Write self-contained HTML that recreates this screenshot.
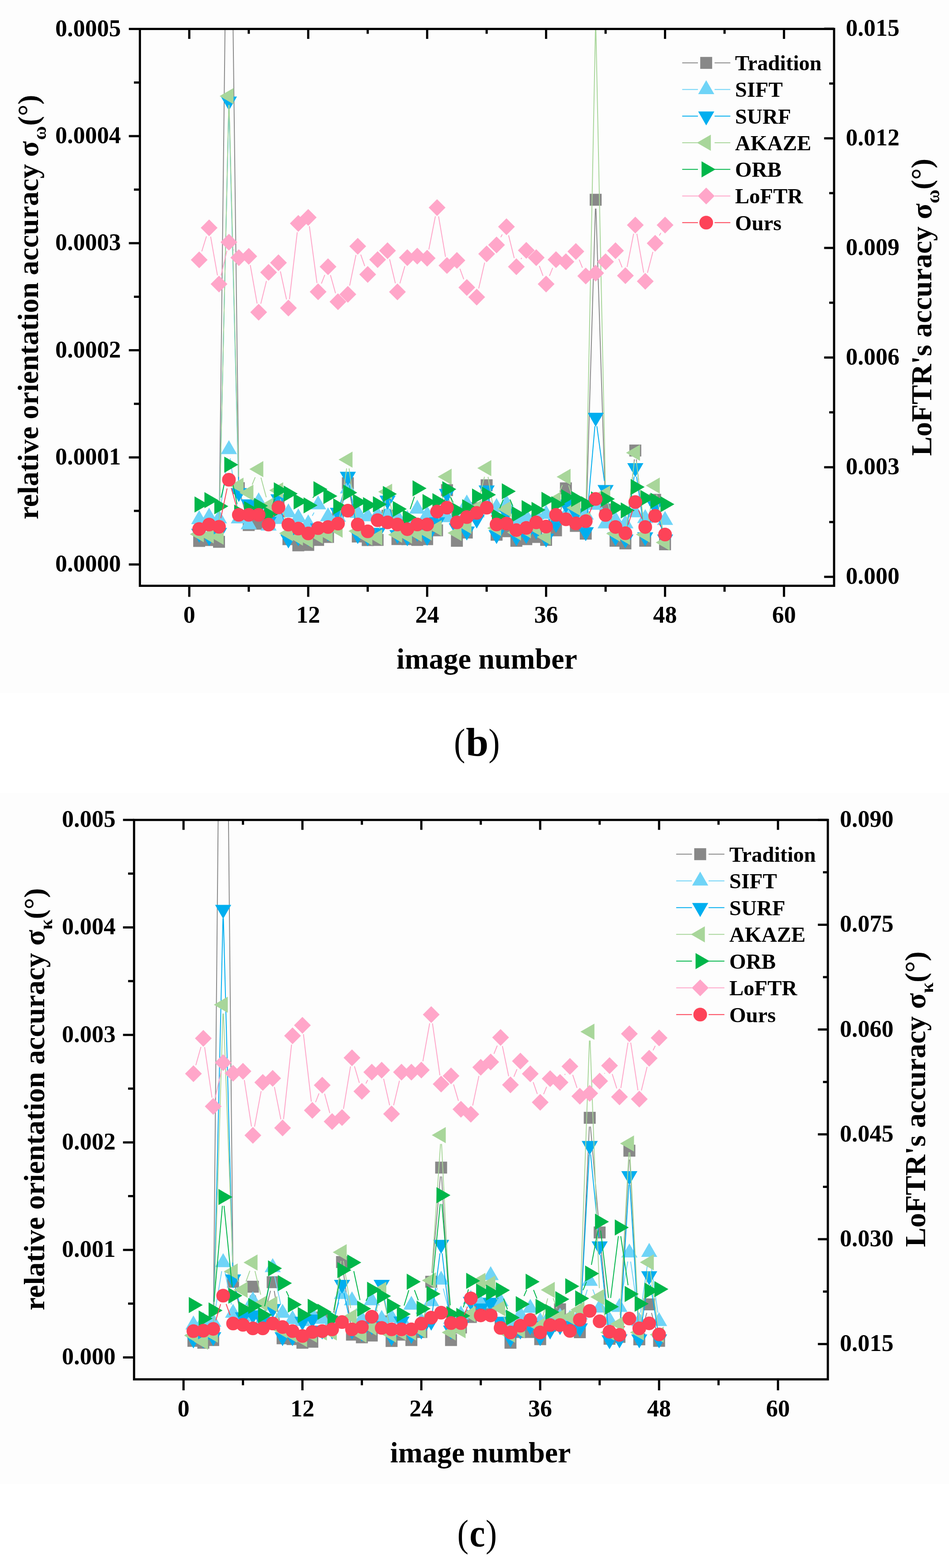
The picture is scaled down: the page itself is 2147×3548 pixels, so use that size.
<!DOCTYPE html>
<html><head><meta charset="utf-8"><title>figure</title>
<style>html,body{margin:0;padding:0;background:#fff}svg{display:block}</style></head>
<body>
<svg width="2147" height="3548" viewBox="0 0 2147 3548" font-family="'Liberation Serif', 'Times New Roman', serif" font-weight="bold">
<rect x="0" y="0" width="2147" height="3548" fill="#fff"/>
<rect x="0" y="0" width="2147" height="1568" fill="#fdfdfd"/>
<rect x="0" y="1794" width="2147" height="1564" fill="#fdfdfd"/>
<clipPath id="c1"><rect x="316.5" y="65.5" width="1570.5" height="1260"/></clipPath>
<g clip-path="url(#c1)">
<path d="M495.7 1206L517.7 -670M518.1 -670L540.1 1084.6M545.5 1123.9L557.6 1168.7M635.4 1159.3L647.1 1200.7M751.1 1197.1L755.7 1187.9M770.2 1150.8L781.4 1112.6M790.7 1113.1L805.8 1194.3M861.9 1203.2L869.1 1185.5M884.5 1185.4L891.3 1201.4M993.6 1180.6L1006.5 1128.4M1015.1 1128.6L1029.8 1204.1M1063.7 1186.5L1071 1168.5M1086.4 1131.6L1093 1116.4M1104.9 1117.6L1119.4 1190.4M1262.5 1180.5L1275.8 1124.5M1285.5 1124.3L1297.7 1170.7M1325.8 1187.5L1347 472M1348.3 472L1369.4 1133M1376.1 1172.1L1386.4 1204.5M1417 1209.7L1435.2 1039.3M1439.5 1039.3L1457.6 1203.7M1464.5 1204.2L1477.5 1150.4M1486.5 1150.5L1500.2 1212.1" stroke="#888888" stroke-width="2.0" fill="none"/>
<rect x="437.1" y="1210.5" width="27" height="27" fill="#888888"/><rect x="459.6" y="1208.5" width="27" height="27" fill="#888888"/><rect x="482" y="1212.5" width="27" height="27" fill="#888888"/><rect x="504.4" y="-703.5" width="27" height="27" fill="#888888"/><rect x="526.8" y="1091.1" width="27" height="27" fill="#888888"/><rect x="549.2" y="1174.5" width="27" height="27" fill="#888888"/><rect x="571.7" y="1171.5" width="27" height="27" fill="#888888"/><rect x="594.1" y="1156.5" width="27" height="27" fill="#888888"/><rect x="616.5" y="1126.5" width="27" height="27" fill="#888888"/><rect x="639" y="1206.5" width="27" height="27" fill="#888888"/><rect x="661.4" y="1220.5" width="27" height="27" fill="#888888"/><rect x="683.8" y="1219.5" width="27" height="27" fill="#888888"/><rect x="706.2" y="1208.2" width="27" height="27" fill="#888888"/><rect x="728.6" y="1201.5" width="27" height="27" fill="#888888"/><rect x="751.1" y="1156.5" width="27" height="27" fill="#888888"/><rect x="773.5" y="1079.9" width="27" height="27" fill="#888888"/><rect x="795.9" y="1200.5" width="27" height="27" fill="#888888"/><rect x="818.4" y="1208.5" width="27" height="27" fill="#888888"/><rect x="840.8" y="1208.2" width="27" height="27" fill="#888888"/><rect x="863.2" y="1153.5" width="27" height="27" fill="#888888"/><rect x="885.6" y="1206.3" width="27" height="27" fill="#888888"/><rect x="908" y="1206.5" width="27" height="27" fill="#888888"/><rect x="930.5" y="1208.2" width="27" height="27" fill="#888888"/><rect x="952.9" y="1206.5" width="27" height="27" fill="#888888"/><rect x="975.3" y="1186.5" width="27" height="27" fill="#888888"/><rect x="997.8" y="1095.5" width="27" height="27" fill="#888888"/><rect x="1020.2" y="1210.2" width="27" height="27" fill="#888888"/><rect x="1042.6" y="1191.5" width="27" height="27" fill="#888888"/><rect x="1065" y="1136.5" width="27" height="27" fill="#888888"/><rect x="1087.5" y="1084.5" width="27" height="27" fill="#888888"/><rect x="1109.9" y="1196.5" width="27" height="27" fill="#888888"/><rect x="1132.3" y="1188.5" width="27" height="27" fill="#888888"/><rect x="1154.7" y="1210.2" width="27" height="27" fill="#888888"/><rect x="1177.2" y="1206.5" width="27" height="27" fill="#888888"/><rect x="1199.6" y="1201.5" width="27" height="27" fill="#888888"/><rect x="1222" y="1208.1" width="27" height="27" fill="#888888"/><rect x="1244.4" y="1186.5" width="27" height="27" fill="#888888"/><rect x="1266.8" y="1091.5" width="27" height="27" fill="#888888"/><rect x="1289.3" y="1176.5" width="27" height="27" fill="#888888"/><rect x="1311.7" y="1194" width="27" height="27" fill="#888888"/><rect x="1334.1" y="438.5" width="27" height="27" fill="#888888"/><rect x="1356.5" y="1139.5" width="27" height="27" fill="#888888"/><rect x="1379" y="1210.1" width="27" height="27" fill="#888888"/><rect x="1401.4" y="1216.1" width="27" height="27" fill="#888888"/><rect x="1423.8" y="1005.9" width="27" height="27" fill="#888888"/><rect x="1446.2" y="1210.1" width="27" height="27" fill="#888888"/><rect x="1468.7" y="1117.5" width="27" height="27" fill="#888888"/><rect x="1491.1" y="1218.1" width="27" height="27" fill="#888888"/>
<path d="M498.3 1153.9L515.1 1036.8M520.7 1036.8L537.5 1153.9M570.7 1168.6L577.3 1153.4M592.7 1153.5L600 1171.5M706.5 1167.3L710.5 1159.7M771.2 1151.1L780.4 1124.9M794.5 1124.5L801.9 1142.9M1044.5 1158.2L1045.3 1156.8M1156.6 1156.8L1157.4 1158.2M1357 1160.6L1360.6 1167.4" stroke="#6fd4f7" stroke-width="2.0" fill="none"/>
<polygon points="450.6,1154.5 468.9,1186.1 432.4,1186.1" fill="#6fd4f7"/><polygon points="473.1,1148.7 491.3,1180.3 454.8,1180.3" fill="#6fd4f7"/><polygon points="495.5,1152.6 513.7,1184.2 477.2,1184.2" fill="#6fd4f7"/><polygon points="517.9,995.9 536.1,1027.5 499.6,1027.5" fill="#6fd4f7"/><polygon points="540.3,1152.6 558.6,1184.2 522.1,1184.2" fill="#6fd4f7"/><polygon points="562.8,1165.9 581,1197.5 544.5,1197.5" fill="#6fd4f7"/><polygon points="585.2,1113.9 603.4,1145.5 566.9,1145.5" fill="#6fd4f7"/><polygon points="607.6,1168.9 625.9,1200.5 589.4,1200.5" fill="#6fd4f7"/><polygon points="630,1153.9 648.3,1185.5 611.8,1185.5" fill="#6fd4f7"/><polygon points="652.5,1138.9 670.7,1170.5 634.2,1170.5" fill="#6fd4f7"/><polygon points="674.9,1150.6 693.1,1182.2 656.6,1182.2" fill="#6fd4f7"/><polygon points="697.3,1163.9 715.5,1195.5 679,1195.5" fill="#6fd4f7"/><polygon points="719.7,1120.9 738,1152.5 701.5,1152.5" fill="#6fd4f7"/><polygon points="742.1,1147.9 760.4,1179.5 723.9,1179.5" fill="#6fd4f7"/><polygon points="764.6,1148.9 782.8,1180.5 746.3,1180.5" fill="#6fd4f7"/><polygon points="787,1084.9 805.2,1116.5 768.8,1116.5" fill="#6fd4f7"/><polygon points="809.4,1140.3 827.7,1171.9 791.2,1171.9" fill="#6fd4f7"/><polygon points="831.9,1147.9 850.1,1179.5 813.6,1179.5" fill="#6fd4f7"/><polygon points="854.3,1143.9 872.5,1175.5 836,1175.5" fill="#6fd4f7"/><polygon points="876.7,1143.9 895,1175.5 858.5,1175.5" fill="#6fd4f7"/><polygon points="899.1,1148.9 917.4,1180.5 880.9,1180.5" fill="#6fd4f7"/><polygon points="921.5,1153.9 939.8,1185.5 903.3,1185.5" fill="#6fd4f7"/><polygon points="944,1130.6 962.2,1162.2 925.7,1162.2" fill="#6fd4f7"/><polygon points="966.4,1143.9 984.7,1175.5 948.2,1175.5" fill="#6fd4f7"/><polygon points="988.8,1138.9 1007.1,1170.5 970.6,1170.5" fill="#6fd4f7"/><polygon points="1011.2,1149.9 1029.5,1181.5 993,1181.5" fill="#6fd4f7"/><polygon points="1033.7,1153.9 1051.9,1185.5 1015.4,1185.5" fill="#6fd4f7"/><polygon points="1056.1,1118.9 1074.3,1150.5 1037.8,1150.5" fill="#6fd4f7"/><polygon points="1078.5,1138.9 1096.8,1170.5 1060.3,1170.5" fill="#6fd4f7"/><polygon points="1101,1118.9 1119.2,1150.5 1082.7,1150.5" fill="#6fd4f7"/><polygon points="1123.4,1126.9 1141.6,1158.5 1105.1,1158.5" fill="#6fd4f7"/><polygon points="1145.8,1118.9 1164,1150.5 1127.5,1150.5" fill="#6fd4f7"/><polygon points="1168.2,1153.9 1186.5,1185.5 1150,1185.5" fill="#6fd4f7"/><polygon points="1190.7,1148.9 1208.9,1180.5 1172.4,1180.5" fill="#6fd4f7"/><polygon points="1213.1,1143.9 1231.3,1175.5 1194.8,1175.5" fill="#6fd4f7"/><polygon points="1235.5,1142.3 1253.8,1173.9 1217.2,1173.9" fill="#6fd4f7"/><polygon points="1257.9,1153.9 1276.2,1185.5 1239.7,1185.5" fill="#6fd4f7"/><polygon points="1280.3,1143.9 1298.6,1175.5 1262.1,1175.5" fill="#6fd4f7"/><polygon points="1302.8,1148.9 1321,1180.5 1284.5,1180.5" fill="#6fd4f7"/><polygon points="1325.2,1143.9 1343.5,1175.5 1307,1175.5" fill="#6fd4f7"/><polygon points="1347.6,1121.9 1365.9,1153.5 1329.4,1153.5" fill="#6fd4f7"/><polygon points="1370,1163.9 1388.3,1195.5 1351.8,1195.5" fill="#6fd4f7"/><polygon points="1392.5,1155.9 1410.7,1187.5 1374.2,1187.5" fill="#6fd4f7"/><polygon points="1414.9,1163.9 1433.2,1195.5 1396.7,1195.5" fill="#6fd4f7"/><polygon points="1437.3,1138.9 1455.6,1170.5 1419.1,1170.5" fill="#6fd4f7"/><polygon points="1459.8,1151.9 1478,1183.5 1441.5,1183.5" fill="#6fd4f7"/><polygon points="1482.2,1138.9 1500.4,1170.5 1463.9,1170.5" fill="#6fd4f7"/><polygon points="1504.6,1156.2 1522.9,1187.8 1486.4,1187.8" fill="#6fd4f7"/>
<path d="M495.9 1185L517.4 249M518.4 249L539.8 1095M615.7 1161.7L622 1147.3M634.8 1148.4L647.7 1200.6M751.2 1186.1L755.6 1177.4M769.9 1140.2L781.7 1097.3M790.3 1097.7L806.1 1190.3M860.1 1185.9L870.8 1151.1M882.2 1151.2L893.6 1190.8M995.4 1162.1L1004.7 1135.6M1016.8 1135.9L1028.2 1175.8M1085 1156.1L1094.5 1127.9M1105.3 1128.5L1119 1190.5M1131.7 1191.8L1137.5 1179.2M1153.5 1179.5L1160.6 1196.5M1267 1167.2L1271.3 1158.8M1312.1 1178.7L1315.9 1185.8M1326.9 1183.6L1345.9 964.4M1350.3 964.3L1367.3 1088.2M1374.2 1127.6L1388.4 1195.4M1417.7 1200.2L1434.6 1078.4M1440.2 1078.4L1456.9 1195.2M1465.9 1196L1476.1 1164M1487.9 1164.2L1498.9 1200.8" stroke="#00aeef" stroke-width="2.0" fill="none"/>
<polygon points="450.6,1228.1 468.9,1196.5 432.4,1196.5" fill="#00aeef"/><polygon points="473.1,1235.6 491.3,1204 454.8,1204" fill="#00aeef"/><polygon points="495.5,1226.1 513.7,1194.5 477.2,1194.5" fill="#00aeef"/><polygon points="517.9,250.1 536.1,218.5 499.6,218.5" fill="#00aeef"/><polygon points="540.3,1136.1 558.6,1104.5 522.1,1104.5" fill="#00aeef"/><polygon points="562.8,1161.7 581,1130.1 544.5,1130.1" fill="#00aeef"/><polygon points="585.2,1171.1 603.4,1139.5 566.9,1139.5" fill="#00aeef"/><polygon points="607.6,1201.1 625.9,1169.5 589.4,1169.5" fill="#00aeef"/><polygon points="630,1150.1 648.3,1118.5 611.8,1118.5" fill="#00aeef"/><polygon points="652.5,1241.1 670.7,1209.5 634.2,1209.5" fill="#00aeef"/><polygon points="674.9,1236.1 693.1,1204.5 656.6,1204.5" fill="#00aeef"/><polygon points="697.3,1236.1 715.5,1204.5 679,1204.5" fill="#00aeef"/><polygon points="719.7,1216.1 738,1184.5 701.5,1184.5" fill="#00aeef"/><polygon points="742.1,1225.1 760.4,1193.5 723.9,1193.5" fill="#00aeef"/><polygon points="764.6,1180.6 782.8,1149 746.3,1149" fill="#00aeef"/><polygon points="787,1099.1 805.2,1067.5 768.8,1067.5" fill="#00aeef"/><polygon points="809.4,1231.1 827.7,1199.5 791.2,1199.5" fill="#00aeef"/><polygon points="831.9,1236.1 850.1,1204.5 813.6,1204.5" fill="#00aeef"/><polygon points="854.3,1226.1 872.5,1194.5 836,1194.5" fill="#00aeef"/><polygon points="876.7,1153.1 895,1121.5 858.5,1121.5" fill="#00aeef"/><polygon points="899.1,1231.1 917.4,1199.5 880.9,1199.5" fill="#00aeef"/><polygon points="921.5,1236.1 939.8,1204.5 903.3,1204.5" fill="#00aeef"/><polygon points="944,1226.1 962.2,1194.5 925.7,1194.5" fill="#00aeef"/><polygon points="966.4,1235.1 984.7,1203.5 948.2,1203.5" fill="#00aeef"/><polygon points="988.8,1202.1 1007.1,1170.5 970.6,1170.5" fill="#00aeef"/><polygon points="1011.2,1137.8 1029.5,1106.2 993,1106.2" fill="#00aeef"/><polygon points="1033.7,1216.1 1051.9,1184.5 1015.4,1184.5" fill="#00aeef"/><polygon points="1056.1,1223.1 1074.3,1191.5 1037.8,1191.5" fill="#00aeef"/><polygon points="1078.5,1196.1 1096.8,1164.5 1060.3,1164.5" fill="#00aeef"/><polygon points="1101,1130.1 1119.2,1098.5 1082.7,1098.5" fill="#00aeef"/><polygon points="1123.4,1231.1 1141.6,1199.5 1105.1,1199.5" fill="#00aeef"/><polygon points="1145.8,1182.1 1164,1150.5 1127.5,1150.5" fill="#00aeef"/><polygon points="1168.2,1236.1 1186.5,1204.5 1150,1204.5" fill="#00aeef"/><polygon points="1190.7,1231.1 1208.9,1199.5 1172.4,1199.5" fill="#00aeef"/><polygon points="1213.1,1221.1 1231.3,1189.5 1194.8,1189.5" fill="#00aeef"/><polygon points="1235.5,1239.1 1253.8,1207.5 1217.2,1207.5" fill="#00aeef"/><polygon points="1257.9,1206.1 1276.2,1174.5 1239.7,1174.5" fill="#00aeef"/><polygon points="1280.3,1162.1 1298.6,1130.5 1262.1,1130.5" fill="#00aeef"/><polygon points="1302.8,1182.1 1321,1150.5 1284.5,1150.5" fill="#00aeef"/><polygon points="1325.2,1224.6 1343.5,1193 1307,1193" fill="#00aeef"/><polygon points="1347.6,965.6 1365.9,934 1329.4,934" fill="#00aeef"/><polygon points="1370,1129.1 1388.3,1097.5 1351.8,1097.5" fill="#00aeef"/><polygon points="1392.5,1236.1 1410.7,1204.5 1374.2,1204.5" fill="#00aeef"/><polygon points="1414.9,1241.1 1433.2,1209.5 1396.7,1209.5" fill="#00aeef"/><polygon points="1437.3,1079.7 1455.6,1048.1 1419.1,1048.1" fill="#00aeef"/><polygon points="1459.8,1236.1 1478,1204.5 1441.5,1204.5" fill="#00aeef"/><polygon points="1482.2,1166.1 1500.4,1134.5 1463.9,1134.5" fill="#00aeef"/><polygon points="1504.6,1241.1 1522.9,1209.5 1486.4,1209.5" fill="#00aeef"/>
<path d="M495.9 1194.5L517.5 237.5M518.4 237.5L539.8 1079M570.5 1096.6L577.4 1079.9M590.4 1080.8L602.4 1125.2M618.4 1127.7L619.2 1126.3M634.5 1129L648 1187.2M767.4 1178.6L784.2 1059.8M789.7 1059.8L806.7 1182.2M858.5 1196.5L872.5 1132.3M881.2 1132.3L894.6 1190.5M992.6 1175.4L1007.5 1098.4M1014.7 1098.5L1030.2 1186.3M1065.9 1172.6L1068.7 1167.4M1083.3 1130.6L1096.1 1078.7M1104.2 1079L1120.1 1175.3M1132.6 1177.2L1136.6 1169.5M1153.6 1170.1L1160.5 1186.6M1240.7 1195.7L1252.8 1150.3M1265.8 1112.6L1272.4 1097.4M1286.5 1098L1296.7 1130M1325.6 1155L1347.2 60M1348 60L1369.6 1097M1374.9 1136.4L1387.7 1188.1M1417.2 1195.1L1435 1044.3M1439.7 1044.3L1457.3 1189.6M1463.7 1189.9L1478.2 1118.4M1485.6 1118.5L1501.2 1207.9" stroke="#a8d69a" stroke-width="2.0" fill="none"/>
<polygon points="429.6,1208.7 461.2,1190.5 461.2,1227" fill="#a8d69a"/><polygon points="452,1211.6 483.6,1193.3 483.6,1229.8" fill="#a8d69a"/><polygon points="474.4,1214.5 506,1196.2 506,1232.8" fill="#a8d69a"/><polygon points="496.8,217.5 528.4,199.2 528.4,235.8" fill="#a8d69a"/><polygon points="519.3,1099 550.9,1080.8 550.9,1117.2" fill="#a8d69a"/><polygon points="541.7,1115 573.3,1096.8 573.3,1133.2" fill="#a8d69a"/><polygon points="564.1,1061.5 595.7,1043.2 595.7,1079.8" fill="#a8d69a"/><polygon points="586.5,1144.5 618.1,1126.2 618.1,1162.8" fill="#a8d69a"/><polygon points="609,1109.5 640.6,1091.2 640.6,1127.8" fill="#a8d69a"/><polygon points="631.4,1206.7 663,1188.5 663,1225" fill="#a8d69a"/><polygon points="653.8,1216.5 685.4,1198.2 685.4,1234.8" fill="#a8d69a"/><polygon points="676.2,1222 707.8,1203.8 707.8,1240.2" fill="#a8d69a"/><polygon points="698.7,1212 730.3,1193.8 730.3,1230.2" fill="#a8d69a"/><polygon points="721.1,1210 752.7,1191.8 752.7,1228.2" fill="#a8d69a"/><polygon points="743.5,1198.4 775.1,1180.2 775.1,1216.7" fill="#a8d69a"/><polygon points="765.9,1040 797.5,1021.8 797.5,1058.2" fill="#a8d69a"/><polygon points="788.4,1202 820,1183.8 820,1220.2" fill="#a8d69a"/><polygon points="810.8,1216 842.4,1197.8 842.4,1234.2" fill="#a8d69a"/><polygon points="833.2,1216 864.8,1197.8 864.8,1234.2" fill="#a8d69a"/><polygon points="855.6,1112.8 887.2,1094.5 887.2,1131" fill="#a8d69a"/><polygon points="878.1,1210 909.7,1191.8 909.7,1228.2" fill="#a8d69a"/><polygon points="900.5,1212 932.1,1193.8 932.1,1230.2" fill="#a8d69a"/><polygon points="922.9,1208 954.5,1189.8 954.5,1226.2" fill="#a8d69a"/><polygon points="945.3,1205 976.9,1186.8 976.9,1223.2" fill="#a8d69a"/><polygon points="967.8,1195 999.4,1176.8 999.4,1213.2" fill="#a8d69a"/><polygon points="990.2,1078.8 1021.8,1060.5 1021.8,1097" fill="#a8d69a"/><polygon points="1012.6,1206 1044.2,1187.8 1044.2,1224.2" fill="#a8d69a"/><polygon points="1035,1190 1066.6,1171.8 1066.6,1208.2" fill="#a8d69a"/><polygon points="1057.5,1150 1089.1,1131.8 1089.1,1168.2" fill="#a8d69a"/><polygon points="1079.9,1059.3 1111.5,1041 1111.5,1077.5" fill="#a8d69a"/><polygon points="1102.3,1195 1133.9,1176.8 1133.9,1213.2" fill="#a8d69a"/><polygon points="1124.7,1151.7 1156.3,1133.5 1156.3,1170" fill="#a8d69a"/><polygon points="1147.2,1205 1178.8,1186.8 1178.8,1223.2" fill="#a8d69a"/><polygon points="1169.6,1200 1201.2,1181.8 1201.2,1218.2" fill="#a8d69a"/><polygon points="1192,1195 1223.6,1176.8 1223.6,1213.2" fill="#a8d69a"/><polygon points="1214.4,1215 1246,1196.8 1246,1233.2" fill="#a8d69a"/><polygon points="1236.9,1131 1268.5,1112.8 1268.5,1149.2" fill="#a8d69a"/><polygon points="1259.3,1079 1290.9,1060.8 1290.9,1097.2" fill="#a8d69a"/><polygon points="1281.7,1149 1313.3,1130.8 1313.3,1167.2" fill="#a8d69a"/><polygon points="1304.1,1175 1335.7,1156.8 1335.7,1193.2" fill="#a8d69a"/><polygon points="1326.6,40 1358.2,21.8 1358.2,58.2" fill="#a8d69a"/><polygon points="1349,1117 1380.6,1098.8 1380.6,1135.2" fill="#a8d69a"/><polygon points="1371.4,1207.5 1403,1189.2 1403,1225.8" fill="#a8d69a"/><polygon points="1393.8,1215 1425.4,1196.8 1425.4,1233.2" fill="#a8d69a"/><polygon points="1416.3,1024.4 1447.9,1006.2 1447.9,1042.7" fill="#a8d69a"/><polygon points="1438.7,1209.5 1470.3,1191.2 1470.3,1227.8" fill="#a8d69a"/><polygon points="1461.1,1098.8 1492.7,1080.5 1492.7,1117" fill="#a8d69a"/><polygon points="1483.5,1227.6 1515.1,1209.3 1515.1,1245.8" fill="#a8d69a"/>
<path d="M500.1 1126L513.3 1071M521.9 1071.1L536.3 1140.4M615.2 1145.5L622.4 1128M707.8 1126.5L709.3 1124M887.7 1134.4L888.1 1135M928 1152.1L937.5 1123.9M1019.6 1125.2L1025.3 1137.4M1109.2 1137.8L1115.1 1150.8M1130.7 1150.4L1138.5 1130.4M1153.8 1130.1L1160.3 1145.1M1422.7 1136.6L1429.5 1120.3" stroke="#00b64a" stroke-width="2.0" fill="none"/>
<polygon points="471.7,1141.6 440.1,1123.3 440.1,1159.8" fill="#00b64a"/><polygon points="494.1,1131.8 462.5,1113.5 462.5,1150" fill="#00b64a"/><polygon points="516.5,1145.5 484.9,1127.2 484.9,1163.8" fill="#00b64a"/><polygon points="539,1051.5 507.4,1033.2 507.4,1069.8" fill="#00b64a"/><polygon points="561.4,1160 529.8,1141.8 529.8,1178.2" fill="#00b64a"/><polygon points="583.8,1152 552.2,1133.8 552.2,1170.2" fill="#00b64a"/><polygon points="606.2,1144.5 574.6,1126.2 574.6,1162.8" fill="#00b64a"/><polygon points="628.7,1164 597.1,1145.8 597.1,1182.2" fill="#00b64a"/><polygon points="651.1,1109.5 619.5,1091.2 619.5,1127.8" fill="#00b64a"/><polygon points="673.5,1117 641.9,1098.8 641.9,1135.2" fill="#00b64a"/><polygon points="695.9,1134.8 664.3,1116.5 664.3,1153" fill="#00b64a"/><polygon points="718.4,1143.5 686.8,1125.2 686.8,1161.8" fill="#00b64a"/><polygon points="740.8,1107 709.2,1088.8 709.2,1125.2" fill="#00b64a"/><polygon points="763.2,1122.5 731.6,1104.2 731.6,1140.8" fill="#00b64a"/><polygon points="785.6,1146 754,1127.8 754,1164.2" fill="#00b64a"/><polygon points="808.1,1114.8 776.5,1096.5 776.5,1133" fill="#00b64a"/><polygon points="830.5,1136 798.9,1117.8 798.9,1154.2" fill="#00b64a"/><polygon points="852.9,1143 821.3,1124.8 821.3,1161.2" fill="#00b64a"/><polygon points="875.3,1141 843.7,1122.8 843.7,1159.2" fill="#00b64a"/><polygon points="897.8,1117.7 866.2,1099.5 866.2,1136" fill="#00b64a"/><polygon points="920.2,1151.7 888.6,1133.5 888.6,1170" fill="#00b64a"/><polygon points="942.6,1171 911,1152.8 911,1189.2" fill="#00b64a"/><polygon points="965,1105 933.4,1086.8 933.4,1123.2" fill="#00b64a"/><polygon points="987.5,1136 955.9,1117.8 955.9,1154.2" fill="#00b64a"/><polygon points="1009.9,1134 978.3,1115.8 978.3,1152.2" fill="#00b64a"/><polygon points="1032.3,1107 1000.7,1088.8 1000.7,1125.2" fill="#00b64a"/><polygon points="1054.7,1155.6 1023.1,1137.3 1023.1,1173.8" fill="#00b64a"/><polygon points="1077.2,1147.8 1045.6,1129.5 1045.6,1166" fill="#00b64a"/><polygon points="1099.6,1123.5 1068,1105.2 1068,1141.8" fill="#00b64a"/><polygon points="1122,1119.6 1090.4,1101.3 1090.4,1137.8" fill="#00b64a"/><polygon points="1144.4,1169 1112.8,1150.8 1112.8,1187.2" fill="#00b64a"/><polygon points="1166.9,1111.8 1135.3,1093.5 1135.3,1130" fill="#00b64a"/><polygon points="1189.3,1163.4 1157.7,1145.2 1157.7,1181.7" fill="#00b64a"/><polygon points="1211.7,1149.8 1180.1,1131.5 1180.1,1168" fill="#00b64a"/><polygon points="1234.1,1153.7 1202.5,1135.5 1202.5,1172" fill="#00b64a"/><polygon points="1256.6,1131 1225,1112.8 1225,1149.2" fill="#00b64a"/><polygon points="1279,1141 1247.4,1122.8 1247.4,1159.2" fill="#00b64a"/><polygon points="1301.4,1125 1269.8,1106.8 1269.8,1143.2" fill="#00b64a"/><polygon points="1323.8,1129 1292.2,1110.8 1292.2,1147.2" fill="#00b64a"/><polygon points="1346.3,1141 1314.7,1122.8 1314.7,1159.2" fill="#00b64a"/><polygon points="1368.7,1130 1337.1,1111.8 1337.1,1148.2" fill="#00b64a"/><polygon points="1391.1,1129 1359.5,1110.8 1359.5,1147.2" fill="#00b64a"/><polygon points="1413.5,1149 1381.9,1130.8 1381.9,1167.2" fill="#00b64a"/><polygon points="1436,1155 1404.4,1136.8 1404.4,1173.2" fill="#00b64a"/><polygon points="1458.4,1101.9 1426.8,1083.7 1426.8,1120.2" fill="#00b64a"/><polygon points="1480.8,1127 1449.2,1108.8 1449.2,1145.2" fill="#00b64a"/><polygon points="1503.2,1133 1471.6,1114.8 1471.6,1151.2" fill="#00b64a"/><polygon points="1525.7,1141 1494.1,1122.8 1494.1,1159.2" fill="#00b64a"/>
<path d="M456.5 568.8L467.1 534.7M476.5 535.3L492 623.1M500.1 623.3L513.3 567.5M528.7 564.8L529.5 566.2M566.2 599.8L581.7 686.9M590 687.2L602.8 635.7M634.3 614L648.2 677.5M654.8 677.1L672.5 525.5M699.9 511.8L717.1 640.4M727.1 641.6L734.8 622M747.6 622.6L759.1 663.5M791 646.4L805.4 576.9M816.1 576.2L825.2 602.1M843 604.4L843.1 604.1M881.4 586.6L894.5 641.1M904.7 641.3L916 602.2M970.2 564.6L985 489.4M992.2 489.5L1007.9 581.1M1040.5 608.1L1049.2 631.8M1083 652.8L1096.5 594.1M1132.9 536.7L1136.3 530.6M1150.6 532.4L1163.4 584M1178.6 586.3L1180.3 583.6M1220.1 601.7L1228.5 624.1M1243 624.3L1250.4 606M1310.3 587.5L1317.7 605.9M1399.9 585.8L1407.5 605.1M1418.7 604.1L1433.5 528.9M1440.8 529L1456.3 616.9M1464.8 617.2L1477.1 570M1491.7 533L1495.1 526.9" stroke="#ffa6c9" stroke-width="2.0" fill="none"/>
<polygon points="450.6,568.9 469.6,587.9 450.6,606.9 431.6,587.9" fill="#ffa6c9"/><polygon points="473.1,496.6 492.1,515.6 473.1,534.6 454.1,515.6" fill="#ffa6c9"/><polygon points="495.5,623.8 514.5,642.8 495.5,661.8 476.5,642.8" fill="#ffa6c9"/><polygon points="517.9,529 536.9,548 517.9,567 498.9,548" fill="#ffa6c9"/><polygon points="540.3,564 559.3,583 540.3,602 521.3,583" fill="#ffa6c9"/><polygon points="562.8,561.1 581.8,580.1 562.8,599.1 543.8,580.1" fill="#ffa6c9"/><polygon points="585.2,687.6 604.2,706.6 585.2,725.6 566.2,706.6" fill="#ffa6c9"/><polygon points="607.6,597.3 626.6,616.3 607.6,635.3 588.6,616.3" fill="#ffa6c9"/><polygon points="630,575.5 649,594.5 630,613.5 611,594.5" fill="#ffa6c9"/><polygon points="652.5,678 671.5,697 652.5,716 633.5,697" fill="#ffa6c9"/><polygon points="674.9,486.6 693.9,505.6 674.9,524.6 655.9,505.6" fill="#ffa6c9"/><polygon points="697.3,473 716.3,492 697.3,511 678.3,492" fill="#ffa6c9"/><polygon points="719.7,641.2 738.7,660.2 719.7,679.2 700.7,660.2" fill="#ffa6c9"/><polygon points="742.1,584.4 761.1,603.4 742.1,622.4 723.1,603.4" fill="#ffa6c9"/><polygon points="764.6,663.7 783.6,682.7 764.6,701.7 745.6,682.7" fill="#ffa6c9"/><polygon points="787,647 806,666 787,685 768,666" fill="#ffa6c9"/><polygon points="809.4,538.3 828.4,557.3 809.4,576.3 790.4,557.3" fill="#ffa6c9"/><polygon points="831.9,602 850.9,621 831.9,640 812.9,621" fill="#ffa6c9"/><polygon points="854.3,568.5 873.3,587.5 854.3,606.5 835.3,587.5" fill="#ffa6c9"/><polygon points="876.7,548.2 895.7,567.2 876.7,586.2 857.7,567.2" fill="#ffa6c9"/><polygon points="899.1,641.5 918.1,660.5 899.1,679.5 880.1,660.5" fill="#ffa6c9"/><polygon points="921.5,564 940.5,583 921.5,602 902.5,583" fill="#ffa6c9"/><polygon points="944,560.4 963,579.4 944,598.4 925,579.4" fill="#ffa6c9"/><polygon points="966.4,565.2 985.4,584.2 966.4,603.2 947.4,584.2" fill="#ffa6c9"/><polygon points="988.8,450.8 1007.8,469.8 988.8,488.8 969.8,469.8" fill="#ffa6c9"/><polygon points="1011.2,581.8 1030.2,600.8 1011.2,619.8 992.2,600.8" fill="#ffa6c9"/><polygon points="1033.7,570.3 1052.7,589.3 1033.7,608.3 1014.7,589.3" fill="#ffa6c9"/><polygon points="1056.1,631.6 1075.1,650.6 1056.1,669.6 1037.1,650.6" fill="#ffa6c9"/><polygon points="1078.5,653.3 1097.5,672.3 1078.5,691.3 1059.5,672.3" fill="#ffa6c9"/><polygon points="1101,555.6 1120,574.6 1101,593.6 1082,574.6" fill="#ffa6c9"/><polygon points="1123.4,535.3 1142.4,554.3 1123.4,573.3 1104.4,554.3" fill="#ffa6c9"/><polygon points="1145.8,494 1164.8,513 1145.8,532 1126.8,513" fill="#ffa6c9"/><polygon points="1168.2,584.4 1187.2,603.4 1168.2,622.4 1149.2,603.4" fill="#ffa6c9"/><polygon points="1190.7,547.5 1209.7,566.5 1190.7,585.5 1171.7,566.5" fill="#ffa6c9"/><polygon points="1213.1,564 1232.1,583 1213.1,602 1194.1,583" fill="#ffa6c9"/><polygon points="1235.5,623.8 1254.5,642.8 1235.5,661.8 1216.5,642.8" fill="#ffa6c9"/><polygon points="1257.9,568.5 1276.9,587.5 1257.9,606.5 1238.9,587.5" fill="#ffa6c9"/><polygon points="1280.3,573.3 1299.3,592.3 1280.3,611.3 1261.3,592.3" fill="#ffa6c9"/><polygon points="1302.8,550 1321.8,569 1302.8,588 1283.8,569" fill="#ffa6c9"/><polygon points="1325.2,605.4 1344.2,624.4 1325.2,643.4 1306.2,624.4" fill="#ffa6c9"/><polygon points="1347.6,599 1366.6,618 1347.6,637 1328.6,618" fill="#ffa6c9"/><polygon points="1370,573.3 1389,592.3 1370,611.3 1351,592.3" fill="#ffa6c9"/><polygon points="1392.5,548.2 1411.5,567.2 1392.5,586.2 1373.5,567.2" fill="#ffa6c9"/><polygon points="1414.9,604.7 1433.9,623.7 1414.9,642.7 1395.9,623.7" fill="#ffa6c9"/><polygon points="1437.3,490.3 1456.3,509.3 1437.3,528.3 1418.3,509.3" fill="#ffa6c9"/><polygon points="1459.8,617.6 1478.8,636.6 1459.8,655.6 1440.8,636.6" fill="#ffa6c9"/><polygon points="1482.2,531.6 1501.2,550.6 1482.2,569.6 1463.2,550.6" fill="#ffa6c9"/><polygon points="1504.6,490.3 1523.6,509.3 1504.6,528.3 1485.6,509.3" fill="#ffa6c9"/>
<path d="M499.6 1172.4L513.8 1105.1M523.3 1104.7L534.9 1145.8M617.6 1169.7L620.1 1165.3M640 1165.3L642.5 1169.7M1022.4 1165.4L1022.5 1165.4M1111.1 1166L1113.2 1169.5M1333.3 1161L1339.5 1147.3M1358.2 1146L1359.5 1148.2M1421 1187.4L1431.3 1155.1M1444.7 1154.6L1452.4 1173.8M1491.5 1184.9L1495.2 1191.8" stroke="#fd4358" stroke-width="2.0" fill="none"/>
<circle cx="450.6" cy="1197" r="15.5" fill="#fd4358"/><circle cx="473.1" cy="1187" r="15.5" fill="#fd4358"/><circle cx="495.5" cy="1192" r="15.5" fill="#fd4358"/><circle cx="517.9" cy="1085.5" r="15.5" fill="#fd4358"/><circle cx="540.3" cy="1165" r="15.5" fill="#fd4358"/><circle cx="562.8" cy="1165" r="15.5" fill="#fd4358"/><circle cx="585.2" cy="1165" r="15.5" fill="#fd4358"/><circle cx="607.6" cy="1187" r="15.5" fill="#fd4358"/><circle cx="630" cy="1148" r="15.5" fill="#fd4358"/><circle cx="652.5" cy="1187" r="15.5" fill="#fd4358"/><circle cx="674.9" cy="1196" r="15.5" fill="#fd4358"/><circle cx="697.3" cy="1207" r="15.5" fill="#fd4358"/><circle cx="719.7" cy="1195" r="15.5" fill="#fd4358"/><circle cx="742.1" cy="1192.6" r="15.5" fill="#fd4358"/><circle cx="764.6" cy="1184.8" r="15.5" fill="#fd4358"/><circle cx="787" cy="1155.6" r="15.5" fill="#fd4358"/><circle cx="809.4" cy="1186.7" r="15.5" fill="#fd4358"/><circle cx="831.9" cy="1202.3" r="15.5" fill="#fd4358"/><circle cx="854.3" cy="1177" r="15.5" fill="#fd4358"/><circle cx="876.7" cy="1182" r="15.5" fill="#fd4358"/><circle cx="899.1" cy="1186.7" r="15.5" fill="#fd4358"/><circle cx="921.5" cy="1197.4" r="15.5" fill="#fd4358"/><circle cx="944" cy="1186.7" r="15.5" fill="#fd4358"/><circle cx="966.4" cy="1186.7" r="15.5" fill="#fd4358"/><circle cx="988.8" cy="1157.6" r="15.5" fill="#fd4358"/><circle cx="1011.2" cy="1148.8" r="15.5" fill="#fd4358"/><circle cx="1033.7" cy="1182" r="15.5" fill="#fd4358"/><circle cx="1056.1" cy="1170" r="15.5" fill="#fd4358"/><circle cx="1078.5" cy="1160.5" r="15.5" fill="#fd4358"/><circle cx="1101" cy="1148.8" r="15.5" fill="#fd4358"/><circle cx="1123.4" cy="1186.7" r="15.5" fill="#fd4358"/><circle cx="1145.8" cy="1184.8" r="15.5" fill="#fd4358"/><circle cx="1168.2" cy="1199.4" r="15.5" fill="#fd4358"/><circle cx="1190.7" cy="1194.5" r="15.5" fill="#fd4358"/><circle cx="1213.1" cy="1182" r="15.5" fill="#fd4358"/><circle cx="1235.5" cy="1191.5" r="15.5" fill="#fd4358"/><circle cx="1257.9" cy="1165" r="15.5" fill="#fd4358"/><circle cx="1280.3" cy="1175" r="15.5" fill="#fd4358"/><circle cx="1302.8" cy="1184.3" r="15.5" fill="#fd4358"/><circle cx="1325.2" cy="1179.3" r="15.5" fill="#fd4358"/><circle cx="1347.6" cy="1129" r="15.5" fill="#fd4358"/><circle cx="1370" cy="1165.2" r="15.5" fill="#fd4358"/><circle cx="1392.5" cy="1192.4" r="15.5" fill="#fd4358"/><circle cx="1414.9" cy="1206.5" r="15.5" fill="#fd4358"/><circle cx="1437.3" cy="1136" r="15.5" fill="#fd4358"/><circle cx="1459.8" cy="1192.4" r="15.5" fill="#fd4358"/><circle cx="1482.2" cy="1167.2" r="15.5" fill="#fd4358"/><circle cx="1504.6" cy="1209.5" r="15.5" fill="#fd4358"/>
</g>
<rect x="316.5" y="65.5" width="1570.5" height="1260" fill="none" stroke="#000" stroke-width="5"/>
<path d="M291.5 1277.3H316.5M303 1156.1H316.5M291.5 1034.9H316.5M303 913.8H316.5M291.5 792.6H316.5M303 671.4H316.5M291.5 550.2H316.5M303 429H316.5M291.5 307.9H316.5M303 186.7H316.5M291.5 65.5H316.5M1864.5 1305.2H1887M1876 1181.2H1887M1864.5 1057.2H1887M1876 933.1H1887M1864.5 809.1H1887M1876 685.1H1887M1864.5 561H1887M1876 437H1887M1864.5 313H1887M1876 189H1887M1864.5 65H1887M428.2 1325.5V1350.5M428.2 65.5V88M562.8 1325.5V1339M562.8 65.5V76.5M697.3 1325.5V1350.5M697.3 65.5V88M831.9 1325.5V1339M831.9 65.5V76.5M966.4 1325.5V1350.5M966.4 65.5V88M1101 1325.5V1339M1101 65.5V76.5M1235.5 1325.5V1350.5M1235.5 65.5V88M1370.1 1325.5V1339M1370.1 65.5V76.5M1504.6 1325.5V1350.5M1504.6 65.5V88M1639.2 1325.5V1339M1639.2 65.5V76.5M1773.7 1325.5V1350.5M1773.7 65.5V88" stroke="#000" stroke-width="5" fill="none"/>
<g font-size="54"><text x="273.5" y="1293.3" text-anchor="end">0.0000</text><text x="273.5" y="1050.9" text-anchor="end">0.0001</text><text x="273.5" y="808.6" text-anchor="end">0.0002</text><text x="273.5" y="566.2" text-anchor="end">0.0003</text><text x="273.5" y="323.9" text-anchor="end">0.0004</text><text x="273.5" y="81.5" text-anchor="end">0.0005</text><text x="1913.5" y="1321.2">0.000</text><text x="1913.5" y="1073.2">0.003</text><text x="1913.5" y="825.1">0.006</text><text x="1913.5" y="577">0.009</text><text x="1913.5" y="329">0.012</text><text x="1913.5" y="81">0.015</text><text x="428.2" y="1409" text-anchor="middle">0</text><text x="697.3" y="1409" text-anchor="middle">12</text><text x="966.4" y="1409" text-anchor="middle">24</text><text x="1235.5" y="1409" text-anchor="middle">36</text><text x="1504.6" y="1409" text-anchor="middle">48</text><text x="1773.7" y="1409" text-anchor="middle">60</text></g>
<text x="1101.5" y="1513" font-size="66" text-anchor="middle">image number</text>
<text transform="translate(86 1175.2) rotate(-90)" font-size="65.6">relative orientation accuracy σ<tspan font-size="43" dy="18" dx="2.5">ω</tspan><tspan dy="-18" dx="0.8">(°)</tspan></text>
<text transform="translate(2107 1031.6) rotate(-90)" font-size="65.6">LoFTR's accuracy σ<tspan font-size="43" dy="18">ω</tspan><tspan dy="-18">(°)</tspan></text>
<path d="M1543.4 142.3H1579M1616.6 142.3H1652.3" stroke="#888888" stroke-width="2" fill="none"/><rect x="1584.2" y="128.8" width="27" height="27" fill="#888888"/><text x="1663" y="159.2" font-size="48.5">Tradition</text><path d="M1543.4 202.5H1579M1616.6 202.5H1652.3" stroke="#6fd4f7" stroke-width="2" fill="none"/><polygon points="1597.7,181.5 1616,213.1 1579.5,213.1" fill="#6fd4f7"/><text x="1663" y="219.4" font-size="48.5">SIFT</text><path d="M1543.4 262.8H1579M1616.6 262.8H1652.3" stroke="#00aeef" stroke-width="2" fill="none"/><polygon points="1597.7,283.8 1616,252.2 1579.5,252.2" fill="#00aeef"/><text x="1663" y="279.7" font-size="48.5">SURF</text><path d="M1543.4 323H1579M1616.6 323H1652.3" stroke="#a8d69a" stroke-width="2" fill="none"/><polygon points="1576.6,323 1608.2,304.7 1608.2,341.2" fill="#a8d69a"/><text x="1663" y="339.9" font-size="48.5">AKAZE</text><path d="M1543.4 383.2H1579M1616.6 383.2H1652.3" stroke="#00b64a" stroke-width="2" fill="none"/><polygon points="1618.8,383.2 1587.2,365 1587.2,401.5" fill="#00b64a"/><text x="1663" y="400.1" font-size="48.5">ORB</text><path d="M1543.4 443.4H1579M1616.6 443.4H1652.3" stroke="#ffa6c9" stroke-width="2" fill="none"/><polygon points="1597.7,424.4 1616.7,443.4 1597.7,462.4 1578.7,443.4" fill="#ffa6c9"/><text x="1663" y="460.3" font-size="48.5">LoFTR</text><path d="M1543.4 503.7H1579M1616.6 503.7H1652.3" stroke="#fd4358" stroke-width="2" fill="none"/><circle cx="1597.7" cy="503.7" r="15.5" fill="#fd4358"/><text x="1663" y="520.6" font-size="48.5">Ours</text>
<text transform="translate(1027.1 1709.3) scale(0.88 1)" font-size="87" font-weight="normal">(</text>
<text transform="translate(1105.3 1709.3) scale(0.88 1)" font-size="87" font-weight="normal">)</text>
<text transform="translate(1054 1709.8) scale(1 1)" font-size="92">b</text>
<clipPath id="c2"><rect x="303.3" y="1855.3" width="1569.6" height="1265.8"/></clipPath>
<g clip-path="url(#c2)">
<path d="M482.6 3012.2L504.7 670M505.1 670L527.1 2880.3M532.1 2919.7L544.8 2970.6M555.2 2970.8L566.6 2930.7M577.6 2930.7L589 2970.8M599.4 2970.6L612 2920.7M620.4 2921L635.9 3008.5M714.1 3017.5L721.5 2999.5M754.7 2970.3L770.5 2875.4M776.5 2875.5L793.6 3000.2M872.5 3007.8L876.9 3016.5M957 2994.4L971.7 2919.9M977.3 2880.4L996.3 2661.9M999.1 2662L1019.3 3012.2M1121.1 2976.7L1121.4 2977M1141.5 3011.6L1145.9 3020.4M1254.8 2982.8L1256.7 2979.8M1277.3 2979.8L1279.1 2982.8M1312.7 2994.5L1333.3 2549.3M1335.9 2549.2L1354.9 2768.9M1358.5 2808.7L1377.2 3009.4M1402.5 3005L1422.8 2623.7M1424.9 2623.7L1445.2 3010.6M1451.7 3011.4L1463.3 2970.7M1473.9 2970.8L1485.9 3014.7" stroke="#888888" stroke-width="2.0" fill="none"/>
<rect x="424.1" y="3020.5" width="27" height="27" fill="#888888"/><rect x="446.5" y="3024.8" width="27" height="27" fill="#888888"/><rect x="468.9" y="3018.7" width="27" height="27" fill="#888888"/><rect x="491.4" y="636.5" width="27" height="27" fill="#888888"/><rect x="513.8" y="2886.8" width="27" height="27" fill="#888888"/><rect x="536.2" y="2976.5" width="27" height="27" fill="#888888"/><rect x="558.6" y="2898" width="27" height="27" fill="#888888"/><rect x="581" y="2976.5" width="27" height="27" fill="#888888"/><rect x="603.4" y="2887.8" width="27" height="27" fill="#888888"/><rect x="625.8" y="3014.7" width="27" height="27" fill="#888888"/><rect x="648.3" y="3016.5" width="27" height="27" fill="#888888"/><rect x="670.7" y="3024.8" width="27" height="27" fill="#888888"/><rect x="693.1" y="3022.5" width="27" height="27" fill="#888888"/><rect x="715.5" y="2967.5" width="27" height="27" fill="#888888"/><rect x="737.9" y="2976.5" width="27" height="27" fill="#888888"/><rect x="760.3" y="2842.2" width="27" height="27" fill="#888888"/><rect x="782.8" y="3006.5" width="27" height="27" fill="#888888"/><rect x="805.2" y="3012.5" width="27" height="27" fill="#888888"/><rect x="827.6" y="3008.5" width="27" height="27" fill="#888888"/><rect x="850" y="2976.5" width="27" height="27" fill="#888888"/><rect x="872.4" y="3020.8" width="27" height="27" fill="#888888"/><rect x="894.8" y="3006.5" width="27" height="27" fill="#888888"/><rect x="917.2" y="3018.7" width="27" height="27" fill="#888888"/><rect x="939.7" y="3000.5" width="27" height="27" fill="#888888"/><rect x="962.1" y="2886.8" width="27" height="27" fill="#888888"/><rect x="984.5" y="2628.5" width="27" height="27" fill="#888888"/><rect x="1006.9" y="3018.7" width="27" height="27" fill="#888888"/><rect x="1029.3" y="2990.3" width="27" height="27" fill="#888888"/><rect x="1051.7" y="2966.5" width="27" height="27" fill="#888888"/><rect x="1074.1" y="2946.5" width="27" height="27" fill="#888888"/><rect x="1096.6" y="2946.5" width="27" height="27" fill="#888888"/><rect x="1119" y="2980.2" width="27" height="27" fill="#888888"/><rect x="1141.4" y="3024.8" width="27" height="27" fill="#888888"/><rect x="1163.8" y="3000.5" width="27" height="27" fill="#888888"/><rect x="1186.2" y="3000.5" width="27" height="27" fill="#888888"/><rect x="1208.6" y="3016.7" width="27" height="27" fill="#888888"/><rect x="1231.1" y="2986.5" width="27" height="27" fill="#888888"/><rect x="1253.5" y="2949.1" width="27" height="27" fill="#888888"/><rect x="1275.9" y="2986.5" width="27" height="27" fill="#888888"/><rect x="1298.3" y="3001" width="27" height="27" fill="#888888"/><rect x="1320.7" y="2515.8" width="27" height="27" fill="#888888"/><rect x="1343.1" y="2775.3" width="27" height="27" fill="#888888"/><rect x="1365.5" y="3015.8" width="27" height="27" fill="#888888"/><rect x="1388" y="3011.5" width="27" height="27" fill="#888888"/><rect x="1410.4" y="2590.2" width="27" height="27" fill="#888888"/><rect x="1432.8" y="3017.1" width="27" height="27" fill="#888888"/><rect x="1455.2" y="2938" width="27" height="27" fill="#888888"/><rect x="1477.6" y="3020.5" width="27" height="27" fill="#888888"/>
<path d="M485.7 2971.9L501.6 2876.4M508.7 2876.3L523.4 2951.7M560.1 2962.9L561.7 2960.1M581.5 2960.6L585.1 2967.4M598.3 2965.4L613.2 2887.5M621.2 2887.4L635.1 2951.8M758.3 2971.2L767 2947.5M805.7 2960.6L809.3 2967.4M828.1 2967.4L831.7 2960.6M850.5 2960.6L854.1 2967.4M941.1 2970.1L942.8 2972.9M962.1 2972.1L966.7 2962.9M983.9 2926.8L989.6 2914.5M1002.9 2915.7L1015.5 2965.6M1053.6 2958.2L1054.4 2956.8M1094.3 2931.1L1103.5 2904.9M1117.2 2904.7L1125.4 2926.3M1141.4 2962.9L1146 2972.1M1317.5 2955.8L1328.6 2918.2M1341.2 2917.8L1349.7 2940.7M1405 2938.3L1420.3 2854.5M1426.7 2854.6L1443.4 2970.2M1449.1 2970.2L1465.9 2853.2M1471.5 2853.2L1488.3 2970.2" stroke="#6fd4f7" stroke-width="2.0" fill="none"/>
<polygon points="437.6,2976.6 455.9,3008.2 419.4,3008.2" fill="#6fd4f7"/><polygon points="460,2968.9 478.3,3000.5 441.8,3000.5" fill="#6fd4f7"/><polygon points="482.4,2970.5 500.7,3002.1 464.2,3002.1" fill="#6fd4f7"/><polygon points="504.9,2835.6 523.1,2867.2 486.6,2867.2" fill="#6fd4f7"/><polygon points="527.3,2950.2 545.5,2981.8 509,2981.8" fill="#6fd4f7"/><polygon points="549.7,2958.9 567.9,2990.5 531.4,2990.5" fill="#6fd4f7"/><polygon points="572.1,2921.9 590.4,2953.5 553.9,2953.5" fill="#6fd4f7"/><polygon points="594.5,2963.9 612.8,2995.5 576.3,2995.5" fill="#6fd4f7"/><polygon points="616.9,2846.8 635.2,2878.4 598.7,2878.4" fill="#6fd4f7"/><polygon points="639.3,2950.2 657.6,2981.8 621.1,2981.8" fill="#6fd4f7"/><polygon points="661.8,2964.4 680,2996 643.5,2996" fill="#6fd4f7"/><polygon points="684.2,2968.9 702.4,3000.5 665.9,3000.5" fill="#6fd4f7"/><polygon points="706.6,2953.9 724.8,2985.5 688.3,2985.5" fill="#6fd4f7"/><polygon points="729,2963.9 747.3,2995.5 710.8,2995.5" fill="#6fd4f7"/><polygon points="751.4,2968.9 769.7,3000.5 733.2,3000.5" fill="#6fd4f7"/><polygon points="773.8,2907.6 792.1,2939.2 755.6,2939.2" fill="#6fd4f7"/><polygon points="796.3,2921.9 814.5,2953.5 778,2953.5" fill="#6fd4f7"/><polygon points="818.7,2963.9 836.9,2995.5 800.4,2995.5" fill="#6fd4f7"/><polygon points="841.1,2921.9 859.3,2953.5 822.8,2953.5" fill="#6fd4f7"/><polygon points="863.5,2963.9 881.8,2995.5 845.2,2995.5" fill="#6fd4f7"/><polygon points="885.9,2960.4 904.2,2992 867.7,2992" fill="#6fd4f7"/><polygon points="908.3,2963.9 926.6,2995.5 890.1,2995.5" fill="#6fd4f7"/><polygon points="930.7,2931.9 949,2963.5 912.5,2963.5" fill="#6fd4f7"/><polygon points="953.2,2968.9 971.4,3000.5 934.9,3000.5" fill="#6fd4f7"/><polygon points="975.6,2923.9 993.8,2955.5 957.3,2955.5" fill="#6fd4f7"/><polygon points="998,2875.2 1016.2,2906.8 979.7,2906.8" fill="#6fd4f7"/><polygon points="1020.4,2963.9 1038.7,2995.5 1002.2,2995.5" fill="#6fd4f7"/><polygon points="1042.8,2953.9 1061.1,2985.5 1024.6,2985.5" fill="#6fd4f7"/><polygon points="1065.2,2918.9 1083.5,2950.5 1047,2950.5" fill="#6fd4f7"/><polygon points="1087.6,2928.9 1105.9,2960.5 1069.4,2960.5" fill="#6fd4f7"/><polygon points="1110.1,2864.9 1128.3,2896.5 1091.8,2896.5" fill="#6fd4f7"/><polygon points="1132.5,2923.9 1150.7,2955.5 1114.2,2955.5" fill="#6fd4f7"/><polygon points="1154.9,2968.9 1173.1,3000.5 1136.6,3000.5" fill="#6fd4f7"/><polygon points="1177.3,2953.9 1195.6,2985.5 1159.1,2985.5" fill="#6fd4f7"/><polygon points="1199.7,2938.9 1218,2970.5 1181.5,2970.5" fill="#6fd4f7"/><polygon points="1222.1,2968.9 1240.4,3000.5 1203.9,3000.5" fill="#6fd4f7"/><polygon points="1244.6,2953.9 1262.8,2985.5 1226.3,2985.5" fill="#6fd4f7"/><polygon points="1267,2958.9 1285.2,2990.5 1248.7,2990.5" fill="#6fd4f7"/><polygon points="1289.4,2963.9 1307.6,2995.5 1271.1,2995.5" fill="#6fd4f7"/><polygon points="1311.8,2953.9 1330,2985.5 1293.5,2985.5" fill="#6fd4f7"/><polygon points="1334.2,2877.9 1352.5,2909.5 1316,2909.5" fill="#6fd4f7"/><polygon points="1356.6,2938.4 1374.9,2970 1338.4,2970" fill="#6fd4f7"/><polygon points="1379,2966.6 1397.3,2998.2 1360.8,2998.2" fill="#6fd4f7"/><polygon points="1401.5,2936.9 1419.7,2968.5 1383.2,2968.5" fill="#6fd4f7"/><polygon points="1423.9,2813.7 1442.1,2845.3 1405.6,2845.3" fill="#6fd4f7"/><polygon points="1446.3,2968.9 1464.5,3000.5 1428,3000.5" fill="#6fd4f7"/><polygon points="1468.7,2812.3 1487,2843.9 1450.5,2843.9" fill="#6fd4f7"/><polygon points="1491.1,2968.9 1509.4,3000.5 1472.9,3000.5" fill="#6fd4f7"/>
<path d="M482.9 3005L504.4 2078M505.4 2078L526.7 2874.2M532.3 2913.6L544.6 2960.6M623.6 2980.1L632.7 3006.1M672.6 3008.2L673.4 3006.8M755.7 2990.5L769.6 2925.9M778.1 2925.9L792 2990.5M845.7 2980.5L858.8 2925.9M867.2 2926.1L882.2 3005.3M896.6 3008.1L897.6 3006.5M978.1 2970.2L995.4 2835.8M1000.3 2835.9L1018.1 2990.1M1050.4 2981.5L1057.7 2963.5M1119.3 2964.7L1123.2 2972.3M1142.6 3007.2L1144.7 3010.8M1312.9 2985L1333.1 2612.3M1336.2 2612.2L1354.7 2799.7M1358.7 2839.5L1376.9 3012.1M1402.7 3010L1422.7 2680.5M1425.1 2680.5L1445.1 3010M1449.4 3010.2L1465.6 2906.8M1471.8 2906.8L1488 3010.2" stroke="#00aeef" stroke-width="2.0" fill="none"/>
<polygon points="437.6,3051.1 455.9,3019.5 419.4,3019.5" fill="#00aeef"/><polygon points="460,3051.1 478.3,3019.5 441.8,3019.5" fill="#00aeef"/><polygon points="482.4,3046.1 500.7,3014.5 464.2,3014.5" fill="#00aeef"/><polygon points="504.9,2079.1 523.1,2047.5 486.6,2047.5" fill="#00aeef"/><polygon points="527.3,2915.3 545.5,2883.7 509,2883.7" fill="#00aeef"/><polygon points="549.7,3001.1 567.9,2969.5 531.4,2969.5" fill="#00aeef"/><polygon points="572.1,2996.5 590.4,2964.9 553.9,2964.9" fill="#00aeef"/><polygon points="594.5,3011.1 612.8,2979.5 576.3,2979.5" fill="#00aeef"/><polygon points="616.9,2982.3 635.2,2950.7 598.7,2950.7" fill="#00aeef"/><polygon points="639.3,3046.1 657.6,3014.5 621.1,3014.5" fill="#00aeef"/><polygon points="661.8,3046.1 680,3014.5 643.5,3014.5" fill="#00aeef"/><polygon points="684.2,3011.1 702.4,2979.5 665.9,2979.5" fill="#00aeef"/><polygon points="706.6,3006.1 724.8,2974.5 688.3,2974.5" fill="#00aeef"/><polygon points="729,3031.1 747.3,2999.5 710.8,2999.5" fill="#00aeef"/><polygon points="751.4,3031.1 769.7,2999.5 733.2,2999.5" fill="#00aeef"/><polygon points="773.8,2927.5 792.1,2895.9 755.6,2895.9" fill="#00aeef"/><polygon points="796.3,3031.1 814.5,2999.5 778,2999.5" fill="#00aeef"/><polygon points="818.7,3036.1 836.9,3004.5 800.4,3004.5" fill="#00aeef"/><polygon points="841.1,3021.1 859.3,2989.5 822.8,2989.5" fill="#00aeef"/><polygon points="863.5,2927.5 881.8,2895.9 845.2,2895.9" fill="#00aeef"/><polygon points="885.9,3046.1 904.2,3014.5 867.7,3014.5" fill="#00aeef"/><polygon points="908.3,3010.7 926.6,2979.1 890.1,2979.1" fill="#00aeef"/><polygon points="930.7,3041.1 949,3009.5 912.5,3009.5" fill="#00aeef"/><polygon points="953.2,3031.1 971.4,2999.5 934.9,2999.5" fill="#00aeef"/><polygon points="975.6,3011.1 993.8,2979.5 957.3,2979.5" fill="#00aeef"/><polygon points="998,2837.1 1016.2,2805.5 979.7,2805.5" fill="#00aeef"/><polygon points="1020.4,3031.1 1038.7,2999.5 1002.2,2999.5" fill="#00aeef"/><polygon points="1042.8,3021.1 1061.1,2989.5 1024.6,2989.5" fill="#00aeef"/><polygon points="1065.2,2966.1 1083.5,2934.5 1047,2934.5" fill="#00aeef"/><polygon points="1087.6,2981.1 1105.9,2949.5 1069.4,2949.5" fill="#00aeef"/><polygon points="1110.1,2968.1 1128.3,2936.5 1091.8,2936.5" fill="#00aeef"/><polygon points="1132.5,3011.1 1150.7,2979.5 1114.2,2979.5" fill="#00aeef"/><polygon points="1154.9,3049.1 1173.1,3017.5 1136.6,3017.5" fill="#00aeef"/><polygon points="1177.3,3031.1 1195.6,2999.5 1159.1,2999.5" fill="#00aeef"/><polygon points="1199.7,3021.1 1218,2989.5 1181.5,2989.5" fill="#00aeef"/><polygon points="1222.1,3046.1 1240.4,3014.5 1203.9,3014.5" fill="#00aeef"/><polygon points="1244.6,3031.1 1262.8,2999.5 1226.3,2999.5" fill="#00aeef"/><polygon points="1267,3021.1 1285.2,2989.5 1248.7,2989.5" fill="#00aeef"/><polygon points="1289.4,3021.1 1307.6,2989.5 1271.1,2989.5" fill="#00aeef"/><polygon points="1311.8,3026.1 1330,2994.5 1293.5,2994.5" fill="#00aeef"/><polygon points="1334.2,2613.4 1352.5,2581.8 1316,2581.8" fill="#00aeef"/><polygon points="1356.6,2840.7 1374.9,2809.1 1338.4,2809.1" fill="#00aeef"/><polygon points="1379,3053.1 1397.3,3021.5 1360.8,3021.5" fill="#00aeef"/><polygon points="1401.5,3051.1 1419.7,3019.5 1383.2,3019.5" fill="#00aeef"/><polygon points="1423.9,2681.6 1442.1,2650 1405.6,2650" fill="#00aeef"/><polygon points="1446.3,3051.1 1464.5,3019.5 1428,3019.5" fill="#00aeef"/><polygon points="1468.7,2908.1 1487,2876.5 1450.5,2876.5" fill="#00aeef"/><polygon points="1491.1,3051.1 1509.4,3019.5 1472.9,3019.5" fill="#00aeef"/>
<path d="M483 3000L504.3 2293.5M505.6 2293.5L526.5 2857M536.8 2894.6L540.2 2901M556.5 2899.8L565.3 2875.5M576.8 2876.1L589.8 2929.6M624 2969.7L632.2 2991.3M753.9 2995.2L771.4 2853.2M776.9 2853.2L793.2 2959.7M805.9 2997L809 3002.5M846.2 2984.5L858.4 2937.9M867.8 2938.1L881.6 3000.5M957.1 2990.4L971.7 2916.9M976.9 2877.3L996.6 2588.5M999 2588.5L1019.4 2995M1053.3 2992.9L1054.8 2990.5M1071 2954.2L1081.9 2917.5M1117.5 2922.9L1125 2941.5M1139.5 2978.7L1147.9 3001.3M1227.5 2980.7L1239.2 2938M1251.4 2937.5L1260.1 2961.2M1312.5 2943.5L1333.5 2354.5M1335 2354.5L1355.9 2914.7M1362 2954L1373.7 2995.7M1402.6 2975.7L1422.8 2607.4M1424.9 2607.4L1445.2 2995M1449.1 2995.2L1465.9 2876M1471.4 2876L1488.4 3000.2" stroke="#a8d69a" stroke-width="2.0" fill="none"/>
<polygon points="416.5,3022 448.2,3003.8 448.2,3040.2" fill="#a8d69a"/><polygon points="439,3036 470.6,3017.8 470.6,3054.2" fill="#a8d69a"/><polygon points="461.4,3020 493,3001.8 493,3038.2" fill="#a8d69a"/><polygon points="483.8,2273.5 515.4,2255.2 515.4,2291.8" fill="#a8d69a"/><polygon points="506.2,2877 537.8,2858.8 537.8,2895.2" fill="#a8d69a"/><polygon points="528.6,2918.6 560.2,2900.3 560.2,2936.8" fill="#a8d69a"/><polygon points="551,2856.7 582.6,2838.4 582.6,2874.9" fill="#a8d69a"/><polygon points="573.4,2949 605.1,2930.8 605.1,2967.2" fill="#a8d69a"/><polygon points="595.9,2951 627.5,2932.8 627.5,2969.2" fill="#a8d69a"/><polygon points="618.3,3010 649.9,2991.8 649.9,3028.2" fill="#a8d69a"/><polygon points="640.7,3020 672.3,3001.8 672.3,3038.2" fill="#a8d69a"/><polygon points="663.1,3030 694.7,3011.8 694.7,3048.2" fill="#a8d69a"/><polygon points="685.5,3020 717.1,3001.8 717.1,3038.2" fill="#a8d69a"/><polygon points="707.9,3015 739.5,2996.8 739.5,3033.2" fill="#a8d69a"/><polygon points="730.4,3015 762,2996.8 762,3033.2" fill="#a8d69a"/><polygon points="752.8,2833.4 784.4,2815.2 784.4,2851.7" fill="#a8d69a"/><polygon points="775.2,2979.5 806.8,2961.2 806.8,2997.8" fill="#a8d69a"/><polygon points="797.6,3020 829.2,3001.8 829.2,3038.2" fill="#a8d69a"/><polygon points="820,3003.8 851.6,2985.6 851.6,3022.1" fill="#a8d69a"/><polygon points="842.4,2918.6 874,2900.3 874,2936.8" fill="#a8d69a"/><polygon points="864.8,3020 896.5,3001.8 896.5,3038.2" fill="#a8d69a"/><polygon points="887.3,3015 918.9,2996.8 918.9,3033.2" fill="#a8d69a"/><polygon points="909.7,3015 941.3,2996.8 941.3,3033.2" fill="#a8d69a"/><polygon points="932.1,3010 963.7,2991.8 963.7,3028.2" fill="#a8d69a"/><polygon points="954.5,2897.3 986.1,2879.1 986.1,2915.6" fill="#a8d69a"/><polygon points="976.9,2568.5 1008.5,2550.2 1008.5,2586.8" fill="#a8d69a"/><polygon points="999.3,3015 1030.9,2996.8 1030.9,3033.2" fill="#a8d69a"/><polygon points="1021.7,3010 1053.4,2991.8 1053.4,3028.2" fill="#a8d69a"/><polygon points="1044.2,2973.4 1075.8,2955.2 1075.8,2991.7" fill="#a8d69a"/><polygon points="1066.6,2898.3 1098.2,2880.1 1098.2,2916.6" fill="#a8d69a"/><polygon points="1089,2904.4 1120.6,2886.2 1120.6,2922.7" fill="#a8d69a"/><polygon points="1111.4,2960 1143,2941.8 1143,2978.2" fill="#a8d69a"/><polygon points="1133.8,3020 1165.4,3001.8 1165.4,3038.2" fill="#a8d69a"/><polygon points="1156.2,3010 1187.8,2991.8 1187.8,3028.2" fill="#a8d69a"/><polygon points="1178.7,2990 1210.3,2971.8 1210.3,3008.2" fill="#a8d69a"/><polygon points="1201.1,3000 1232.7,2981.8 1232.7,3018.2" fill="#a8d69a"/><polygon points="1223.5,2918.7 1255.1,2900.4 1255.1,2936.9" fill="#a8d69a"/><polygon points="1245.9,2980 1277.5,2961.8 1277.5,2998.2" fill="#a8d69a"/><polygon points="1268.3,2980 1299.9,2961.8 1299.9,2998.2" fill="#a8d69a"/><polygon points="1290.7,2963.5 1322.3,2945.2 1322.3,2981.8" fill="#a8d69a"/><polygon points="1313.1,2334.5 1344.8,2316.2 1344.8,2352.8" fill="#a8d69a"/><polygon points="1335.6,2934.7 1367.2,2916.4 1367.2,2952.9" fill="#a8d69a"/><polygon points="1358,3015 1389.6,2996.8 1389.6,3033.2" fill="#a8d69a"/><polygon points="1380.4,2995.7 1412,2977.4 1412,3013.9" fill="#a8d69a"/><polygon points="1402.8,2587.4 1434.4,2569.2 1434.4,2605.7" fill="#a8d69a"/><polygon points="1425.2,3015 1456.8,2996.8 1456.8,3033.2" fill="#a8d69a"/><polygon points="1447.6,2856.2 1479.2,2837.9 1479.2,2874.4" fill="#a8d69a"/><polygon points="1470,3020 1501.7,3001.8 1501.7,3038.2" fill="#a8d69a"/>
<path d="M484.2 2945.4L503.1 2728.5M506.9 2728.5L525.3 2911.9M598.7 2955.8L612.8 2889.5M628.1 2886.5L628.2 2886.8M647.7 2921.6L653.4 2933.8M755.4 2963.9L769.8 2893.6M800.4 2876.3L814.5 2941.6M828 2943.5L831.8 2936.3M914.2 2954.3L924.9 2919.4M937.7 2919.1L946.3 2942.4M964.3 2944.6L964.5 2944.3M977.6 2907.8L996 2724.4M999.7 2724.4L1018.7 2953.5M1048.3 2958.2L1059.8 2917.5M1139.3 2938.4L1148.1 2962.7M1185.4 2932.7L1191.6 2918.6M1207.1 2918.9L1214.8 2938.4M1319.2 2919.4L1326.8 2900.3M1338 2862.1L1352.9 2784M1358.9 2784.3L1376.7 2936.9M1381.5 2937L1399 2797.2M1404.4 2797.2L1420.9 2908.2" stroke="#00b64a" stroke-width="2.0" fill="none"/>
<polygon points="458.7,2953 427.1,2934.8 427.1,2971.2" fill="#00b64a"/><polygon points="481.1,2983.5 449.5,2965.2 449.5,3001.8" fill="#00b64a"/><polygon points="503.5,2965.3 471.9,2947.1 471.9,2983.6" fill="#00b64a"/><polygon points="525.9,2708.6 494.3,2690.3 494.3,2726.8" fill="#00b64a"/><polygon points="548.3,2931.8 516.7,2913.6 516.7,2950.1" fill="#00b64a"/><polygon points="570.8,2962.2 539.2,2943.9 539.2,2980.4" fill="#00b64a"/><polygon points="593.2,2955 561.6,2936.8 561.6,2973.2" fill="#00b64a"/><polygon points="615.6,2975.4 584,2957.2 584,2993.7" fill="#00b64a"/><polygon points="638,2869.9 606.4,2851.7 606.4,2888.2" fill="#00b64a"/><polygon points="660.4,2903.4 628.8,2885.2 628.8,2921.7" fill="#00b64a"/><polygon points="682.8,2952 651.2,2933.8 651.2,2970.2" fill="#00b64a"/><polygon points="705.3,2975.4 673.6,2957.2 673.6,2993.7" fill="#00b64a"/><polygon points="727.7,2957 696.1,2938.8 696.1,2975.2" fill="#00b64a"/><polygon points="750.1,2968.3 718.5,2950.1 718.5,2986.6" fill="#00b64a"/><polygon points="772.5,2983.5 740.9,2965.2 740.9,3001.8" fill="#00b64a"/><polygon points="794.9,2874 763.3,2855.8 763.3,2892.2" fill="#00b64a"/><polygon points="817.3,2856.7 785.7,2838.4 785.7,2874.9" fill="#00b64a"/><polygon points="839.7,2961.2 808.1,2942.9 808.1,2979.4" fill="#00b64a"/><polygon points="862.2,2918.6 830.5,2900.3 830.5,2936.8" fill="#00b64a"/><polygon points="884.6,2932.8 853,2914.6 853,2951.1" fill="#00b64a"/><polygon points="907,2955.1 875.4,2936.8 875.4,2973.3" fill="#00b64a"/><polygon points="929.4,2973.4 897.8,2955.2 897.8,2991.7" fill="#00b64a"/><polygon points="951.8,2900.3 920.2,2882.1 920.2,2918.6" fill="#00b64a"/><polygon points="974.2,2961.2 942.6,2942.9 942.6,2979.4" fill="#00b64a"/><polygon points="996.6,2927.7 965,2909.4 965,2945.9" fill="#00b64a"/><polygon points="1019.1,2704.5 987.5,2686.2 987.5,2722.8" fill="#00b64a"/><polygon points="1041.5,2973.4 1009.9,2955.2 1009.9,2991.7" fill="#00b64a"/><polygon points="1063.9,2977.4 1032.3,2959.2 1032.3,2995.7" fill="#00b64a"/><polygon points="1086.3,2898.3 1054.7,2880.1 1054.7,2916.6" fill="#00b64a"/><polygon points="1108.7,2922.6 1077.1,2904.3 1077.1,2940.8" fill="#00b64a"/><polygon points="1131.1,2924.7 1099.5,2906.4 1099.5,2942.9" fill="#00b64a"/><polygon points="1153.6,2919.6 1121.9,2901.3 1121.9,2937.8" fill="#00b64a"/><polygon points="1176,2981.5 1144.4,2963.2 1144.4,2999.8" fill="#00b64a"/><polygon points="1198.4,2951 1166.8,2932.8 1166.8,2969.2" fill="#00b64a"/><polygon points="1220.8,2900.3 1189.2,2882.1 1189.2,2918.6" fill="#00b64a"/><polygon points="1243.2,2957 1211.6,2938.8 1211.6,2975.2" fill="#00b64a"/><polygon points="1265.6,2969 1234,2950.8 1234,2987.2" fill="#00b64a"/><polygon points="1288,2939.8 1256.4,2921.6 1256.4,2958.1" fill="#00b64a"/><polygon points="1310.5,2910.6 1278.8,2892.3 1278.8,2928.8" fill="#00b64a"/><polygon points="1332.9,2938 1301.3,2919.8 1301.3,2956.2" fill="#00b64a"/><polygon points="1355.3,2881.7 1323.7,2863.4 1323.7,2899.9" fill="#00b64a"/><polygon points="1377.7,2764.4 1346.1,2746.2 1346.1,2782.7" fill="#00b64a"/><polygon points="1400.1,2956.8 1368.5,2938.6 1368.5,2975.1" fill="#00b64a"/><polygon points="1422.5,2777.4 1390.9,2759.2 1390.9,2795.7" fill="#00b64a"/><polygon points="1444.9,2928 1413.3,2909.8 1413.3,2946.2" fill="#00b64a"/><polygon points="1467.4,2950 1435.8,2931.8 1435.8,2968.2" fill="#00b64a"/><polygon points="1489.8,2920.6 1458.2,2902.3 1458.2,2938.8" fill="#00b64a"/><polygon points="1512.2,2917 1480.6,2898.8 1480.6,2935.2" fill="#00b64a"/>
<path d="M443 2410.3L454.6 2368.9M462.9 2369.4L479.6 2483.6M486.9 2483.9L500.4 2424.1M552.7 2443.9L569 2549.2M575.8 2549.3L590.8 2468.9M620.8 2459.6L635.4 2532.7M641.5 2532.4L659.6 2363.6M686.5 2340L704.3 2492.7M713.9 2494L721.7 2474.1M734.3 2474.8L746.2 2518.5M777.1 2509.1L793 2413.2M801.9 2412.7L813 2450.3M827.8 2451.7L831.9 2443.8M867.9 2441.1L881.5 2501M890.5 2501L903.7 2445.5M956.7 2401.5L972.1 2315.5M978.4 2315.6L995.2 2433.1M1026.1 2453.7L1037.1 2490.9M1069.4 2501.6L1083.5 2434.6M1117.5 2384.5L1125 2366M1136.6 2367L1150.8 2435.2M1162.6 2436.3L1169.6 2419.4M1206.3 2448.6L1215.6 2475.3M1229.9 2475.8L1236.8 2459.1M1277.5 2432.2L1278.8 2430.1M1295.7 2432.1L1305.5 2461.6M1367.4 2429.4L1368.3 2428.1M1385.1 2430.3L1395.4 2462.9M1404.6 2462.2L1420.8 2359.1M1426.9 2359.1L1443.3 2467.1M1451 2467.5L1464 2414M1477.5 2376.6L1482.4 2366.5" stroke="#ffa6c9" stroke-width="2.0" fill="none"/>
<polygon points="437.6,2410.6 456.6,2429.6 437.6,2448.6 418.6,2429.6" fill="#ffa6c9"/><polygon points="460,2330.6 479,2349.6 460,2368.6 441,2349.6" fill="#ffa6c9"/><polygon points="482.4,2484.4 501.4,2503.4 482.4,2522.4 463.4,2503.4" fill="#ffa6c9"/><polygon points="504.9,2385.6 523.9,2404.6 504.9,2423.6 485.9,2404.6" fill="#ffa6c9"/><polygon points="527.3,2409.6 546.3,2428.6 527.3,2447.6 508.3,2428.6" fill="#ffa6c9"/><polygon points="549.7,2405.1 568.7,2424.1 549.7,2443.1 530.7,2424.1" fill="#ffa6c9"/><polygon points="572.1,2550 591.1,2569 572.1,2588 553.1,2569" fill="#ffa6c9"/><polygon points="594.5,2430.2 613.5,2449.2 594.5,2468.2 575.5,2449.2" fill="#ffa6c9"/><polygon points="616.9,2421 635.9,2440 616.9,2459 597.9,2440" fill="#ffa6c9"/><polygon points="639.3,2533.3 658.3,2552.3 639.3,2571.3 620.3,2552.3" fill="#ffa6c9"/><polygon points="661.8,2324.7 680.8,2343.7 661.8,2362.7 642.8,2343.7" fill="#ffa6c9"/><polygon points="684.2,2301.1 703.2,2320.1 684.2,2339.1 665.2,2320.1" fill="#ffa6c9"/><polygon points="706.6,2493.6 725.6,2512.6 706.6,2531.6 687.6,2512.6" fill="#ffa6c9"/><polygon points="729,2436.5 748,2455.5 729,2474.5 710,2455.5" fill="#ffa6c9"/><polygon points="751.4,2518.8 770.4,2537.8 751.4,2556.8 732.4,2537.8" fill="#ffa6c9"/><polygon points="773.8,2509.8 792.8,2528.8 773.8,2547.8 754.8,2528.8" fill="#ffa6c9"/><polygon points="796.3,2374.5 815.3,2393.5 796.3,2412.5 777.3,2393.5" fill="#ffa6c9"/><polygon points="818.7,2450.5 837.7,2469.5 818.7,2488.5 799.7,2469.5" fill="#ffa6c9"/><polygon points="841.1,2407 860.1,2426 841.1,2445 822.1,2426" fill="#ffa6c9"/><polygon points="863.5,2402.6 882.5,2421.6 863.5,2440.6 844.5,2421.6" fill="#ffa6c9"/><polygon points="885.9,2501.5 904.9,2520.5 885.9,2539.5 866.9,2520.5" fill="#ffa6c9"/><polygon points="908.3,2407 927.3,2426 908.3,2445 889.3,2426" fill="#ffa6c9"/><polygon points="930.7,2407 949.7,2426 930.7,2445 911.7,2426" fill="#ffa6c9"/><polygon points="953.2,2402.2 972.2,2421.2 953.2,2440.2 934.2,2421.2" fill="#ffa6c9"/><polygon points="975.6,2276.8 994.6,2295.8 975.6,2314.8 956.6,2295.8" fill="#ffa6c9"/><polygon points="998,2433.9 1017,2452.9 998,2471.9 979,2452.9" fill="#ffa6c9"/><polygon points="1020.4,2415.5 1039.4,2434.5 1020.4,2453.5 1001.4,2434.5" fill="#ffa6c9"/><polygon points="1042.8,2491.1 1061.8,2510.1 1042.8,2529.1 1023.8,2510.1" fill="#ffa6c9"/><polygon points="1065.2,2502.2 1084.2,2521.2 1065.2,2540.2 1046.2,2521.2" fill="#ffa6c9"/><polygon points="1087.6,2396 1106.6,2415 1087.6,2434 1068.6,2415" fill="#ffa6c9"/><polygon points="1110.1,2384.1 1129.1,2403.1 1110.1,2422.1 1091.1,2403.1" fill="#ffa6c9"/><polygon points="1132.5,2328.4 1151.5,2347.4 1132.5,2366.4 1113.5,2347.4" fill="#ffa6c9"/><polygon points="1154.9,2435.8 1173.9,2454.8 1154.9,2473.8 1135.9,2454.8" fill="#ffa6c9"/><polygon points="1177.3,2381.9 1196.3,2400.9 1177.3,2419.9 1158.3,2400.9" fill="#ffa6c9"/><polygon points="1199.7,2410.7 1218.7,2429.7 1199.7,2448.7 1180.7,2429.7" fill="#ffa6c9"/><polygon points="1222.1,2475.2 1241.1,2494.2 1222.1,2513.2 1203.1,2494.2" fill="#ffa6c9"/><polygon points="1244.6,2421.7 1263.6,2440.7 1244.6,2459.7 1225.6,2440.7" fill="#ffa6c9"/><polygon points="1267,2430.2 1286,2449.2 1267,2468.2 1248,2449.2" fill="#ffa6c9"/><polygon points="1289.4,2394.1 1308.4,2413.1 1289.4,2432.1 1270.4,2413.1" fill="#ffa6c9"/><polygon points="1311.8,2461.6 1330.8,2480.6 1311.8,2499.6 1292.8,2480.6" fill="#ffa6c9"/><polygon points="1334.2,2455 1353.2,2474 1334.2,2493 1315.2,2474" fill="#ffa6c9"/><polygon points="1356.6,2427.3 1375.6,2446.3 1356.6,2465.3 1337.6,2446.3" fill="#ffa6c9"/><polygon points="1379,2392.2 1398,2411.2 1379,2430.2 1360,2411.2" fill="#ffa6c9"/><polygon points="1401.5,2463 1420.5,2482 1401.5,2501 1382.5,2482" fill="#ffa6c9"/><polygon points="1423.9,2320.3 1442.9,2339.3 1423.9,2358.3 1404.9,2339.3" fill="#ffa6c9"/><polygon points="1446.3,2467.9 1465.3,2486.9 1446.3,2505.9 1427.3,2486.9" fill="#ffa6c9"/><polygon points="1468.7,2375.6 1487.7,2394.6 1468.7,2413.6 1449.7,2394.6" fill="#ffa6c9"/><polygon points="1491.1,2329.5 1510.1,2348.5 1491.1,2367.5 1472.1,2348.5" fill="#ffa6c9"/>
<path d="M488.2 2987.7L499.1 2951M511.6 2950.6L520.6 2975.9M1050.3 2975.1L1057.8 2956.5M1075.3 2955.2L1077.6 2959.1M1411.8 3003.4L1413.5 3000.7" stroke="#fd4358" stroke-width="2.0" fill="none"/>
<circle cx="437.6" cy="3012" r="15.5" fill="#fd4358"/><circle cx="460" cy="3011" r="15.5" fill="#fd4358"/><circle cx="482.4" cy="3006.9" r="15.5" fill="#fd4358"/><circle cx="504.9" cy="2931.8" r="15.5" fill="#fd4358"/><circle cx="527.3" cy="2994.7" r="15.5" fill="#fd4358"/><circle cx="549.7" cy="2997.7" r="15.5" fill="#fd4358"/><circle cx="572.1" cy="3005.8" r="15.5" fill="#fd4358"/><circle cx="594.5" cy="3005.8" r="15.5" fill="#fd4358"/><circle cx="616.9" cy="2994.7" r="15.5" fill="#fd4358"/><circle cx="639.3" cy="3002.8" r="15.5" fill="#fd4358"/><circle cx="661.8" cy="3012" r="15.5" fill="#fd4358"/><circle cx="684.2" cy="3023" r="15.5" fill="#fd4358"/><circle cx="706.6" cy="3014" r="15.5" fill="#fd4358"/><circle cx="729" cy="3012" r="15.5" fill="#fd4358"/><circle cx="751.4" cy="3008" r="15.5" fill="#fd4358"/><circle cx="773.8" cy="2991.6" r="15.5" fill="#fd4358"/><circle cx="796.3" cy="3008" r="15.5" fill="#fd4358"/><circle cx="818.7" cy="3002.8" r="15.5" fill="#fd4358"/><circle cx="841.1" cy="2979.5" r="15.5" fill="#fd4358"/><circle cx="863.5" cy="3004.8" r="15.5" fill="#fd4358"/><circle cx="885.9" cy="3008" r="15.5" fill="#fd4358"/><circle cx="908.3" cy="3008" r="15.5" fill="#fd4358"/><circle cx="930.7" cy="3008" r="15.5" fill="#fd4358"/><circle cx="953.2" cy="2995" r="15.5" fill="#fd4358"/><circle cx="975.6" cy="2981.5" r="15.5" fill="#fd4358"/><circle cx="998" cy="2970.3" r="15.5" fill="#fd4358"/><circle cx="1020.4" cy="2993.7" r="15.5" fill="#fd4358"/><circle cx="1042.8" cy="2993.7" r="15.5" fill="#fd4358"/><circle cx="1065.2" cy="2937.9" r="15.5" fill="#fd4358"/><circle cx="1087.6" cy="2976.4" r="15.5" fill="#fd4358"/><circle cx="1110.1" cy="2976.4" r="15.5" fill="#fd4358"/><circle cx="1132.5" cy="3004.8" r="15.5" fill="#fd4358"/><circle cx="1154.9" cy="3015" r="15.5" fill="#fd4358"/><circle cx="1177.3" cy="2999.8" r="15.5" fill="#fd4358"/><circle cx="1199.7" cy="2986.6" r="15.5" fill="#fd4358"/><circle cx="1222.1" cy="3015" r="15.5" fill="#fd4358"/><circle cx="1244.6" cy="2998.3" r="15.5" fill="#fd4358"/><circle cx="1267" cy="2998.3" r="15.5" fill="#fd4358"/><circle cx="1289.4" cy="3011.5" r="15.5" fill="#fd4358"/><circle cx="1311.8" cy="2986.3" r="15.5" fill="#fd4358"/><circle cx="1334.2" cy="2966.2" r="15.5" fill="#fd4358"/><circle cx="1356.6" cy="2989.7" r="15.5" fill="#fd4358"/><circle cx="1379" cy="3013.2" r="15.5" fill="#fd4358"/><circle cx="1401.5" cy="3020.5" r="15.5" fill="#fd4358"/><circle cx="1423.9" cy="2983.6" r="15.5" fill="#fd4358"/><circle cx="1446.3" cy="3005.8" r="15.5" fill="#fd4358"/><circle cx="1468.7" cy="2994.4" r="15.5" fill="#fd4358"/><circle cx="1491.1" cy="3019.4" r="15.5" fill="#fd4358"/>
</g>
<rect x="303.3" y="1855.3" width="1569.6" height="1265.8" fill="none" stroke="#000" stroke-width="5"/>
<path d="M278.3 3071.4H303.3M289.8 2949.8H303.3M278.3 2828.2H303.3M289.8 2706.5H303.3M278.3 2584.9H303.3M289.8 2463.3H303.3M278.3 2341.7H303.3M289.8 2220.1H303.3M278.3 2098.4H303.3M289.8 1976.8H303.3M278.3 1855.2H303.3M1850.4 3041.2H1872.9M1861.9 2922.6H1872.9M1850.4 2804H1872.9M1861.9 2685.4H1872.9M1850.4 2566.8H1872.9M1861.9 2448.2H1872.9M1850.4 2329.6H1872.9M1861.9 2211H1872.9M1850.4 2092.4H1872.9M1861.9 1973.8H1872.9M1850.4 1855.2H1872.9M415.2 3121.1V3146.1M415.2 1855.3V1877.8M549.7 3121.1V3134.6M549.7 1855.3V1866.3M684.2 3121.1V3146.1M684.2 1855.3V1877.8M818.7 3121.1V3134.6M818.7 1855.3V1866.3M953.2 3121.1V3146.1M953.2 1855.3V1877.8M1087.7 3121.1V3134.6M1087.7 1855.3V1866.3M1222.1 3121.1V3146.1M1222.1 1855.3V1877.8M1356.6 3121.1V3134.6M1356.6 1855.3V1866.3M1491.1 3121.1V3146.1M1491.1 1855.3V1877.8M1625.6 3121.1V3134.6M1625.6 1855.3V1866.3M1760.1 3121.1V3146.1M1760.1 1855.3V1877.8" stroke="#000" stroke-width="5" fill="none"/>
<g font-size="54"><text x="261.5" y="3087.4" text-anchor="end">0.000</text><text x="261.5" y="2844.2" text-anchor="end">0.001</text><text x="261.5" y="2600.9" text-anchor="end">0.002</text><text x="261.5" y="2357.7" text-anchor="end">0.003</text><text x="261.5" y="2114.4" text-anchor="end">0.004</text><text x="261.5" y="1871.2" text-anchor="end">0.005</text><text x="1900" y="3057.2">0.015</text><text x="1900" y="2820">0.030</text><text x="1900" y="2582.8">0.045</text><text x="1900" y="2345.6">0.060</text><text x="1900" y="2108.4">0.075</text><text x="1900" y="1871.2">0.090</text><text x="415.2" y="3205" text-anchor="middle">0</text><text x="684.2" y="3205" text-anchor="middle">12</text><text x="953.2" y="3205" text-anchor="middle">24</text><text x="1222.1" y="3205" text-anchor="middle">36</text><text x="1491.1" y="3205" text-anchor="middle">48</text><text x="1760.1" y="3205" text-anchor="middle">60</text></g>
<text x="1087" y="3309" font-size="66" text-anchor="middle">image number</text>
<text transform="translate(99.5 2965) rotate(-90)" font-size="66">relative orientation accuracy σ<tspan font-size="43" dy="18" dx="0">κ</tspan><tspan dy="-18" dx="0">(°)</tspan></text>
<text transform="translate(2093 2821.8) rotate(-90)" font-size="66">LoFTR's accuracy σ<tspan font-size="43" dy="18">κ</tspan><tspan dy="-18">(°)</tspan></text>
<path d="M1529.8 1932.8H1565.5M1603 1932.8H1638.9" stroke="#888888" stroke-width="2" fill="none"/><rect x="1570.6" y="1919.3" width="27" height="27" fill="#888888"/><text x="1650" y="1949.7" font-size="48.5">Tradition</text><path d="M1529.8 1993.3H1565.5M1603 1993.3H1638.9" stroke="#6fd4f7" stroke-width="2" fill="none"/><polygon points="1584.1,1972.2 1602.3,2003.8 1565.8,2003.8" fill="#6fd4f7"/><text x="1650" y="2010.2" font-size="48.5">SIFT</text><path d="M1529.8 2053.8H1565.5M1603 2053.8H1638.9" stroke="#00aeef" stroke-width="2" fill="none"/><polygon points="1584.1,2074.9 1602.3,2043.3 1565.8,2043.3" fill="#00aeef"/><text x="1650" y="2070.7" font-size="48.5">SURF</text><path d="M1529.8 2114.3H1565.5M1603 2114.3H1638.9" stroke="#a8d69a" stroke-width="2" fill="none"/><polygon points="1563,2114.3 1594.6,2096.1 1594.6,2132.6" fill="#a8d69a"/><text x="1650" y="2131.2" font-size="48.5">AKAZE</text><path d="M1529.8 2174.8H1565.5M1603 2174.8H1638.9" stroke="#00b64a" stroke-width="2" fill="none"/><polygon points="1605.2,2174.8 1573.6,2156.6 1573.6,2193.1" fill="#00b64a"/><text x="1650" y="2191.7" font-size="48.5">ORB</text><path d="M1529.8 2235.3H1565.5M1603 2235.3H1638.9" stroke="#ffa6c9" stroke-width="2" fill="none"/><polygon points="1584.1,2216.3 1603.1,2235.3 1584.1,2254.3 1565.1,2235.3" fill="#ffa6c9"/><text x="1650" y="2252.2" font-size="48.5">LoFTR</text><path d="M1529.8 2295.8H1565.5M1603 2295.8H1638.9" stroke="#fd4358" stroke-width="2" fill="none"/><circle cx="1584.1" cy="2295.8" r="15.5" fill="#fd4358"/><text x="1650" y="2312.7" font-size="48.5">Ours</text>
<text transform="translate(1034.4 3498.8) scale(0.88 1)" font-size="87" font-weight="normal">(</text>
<text transform="translate(1098.7 3498.8) scale(0.88 1)" font-size="87" font-weight="normal">)</text>
<text transform="translate(1062.2 3499.3) scale(0.9 1)" font-size="88">c</text>
</svg>
</body></html>
